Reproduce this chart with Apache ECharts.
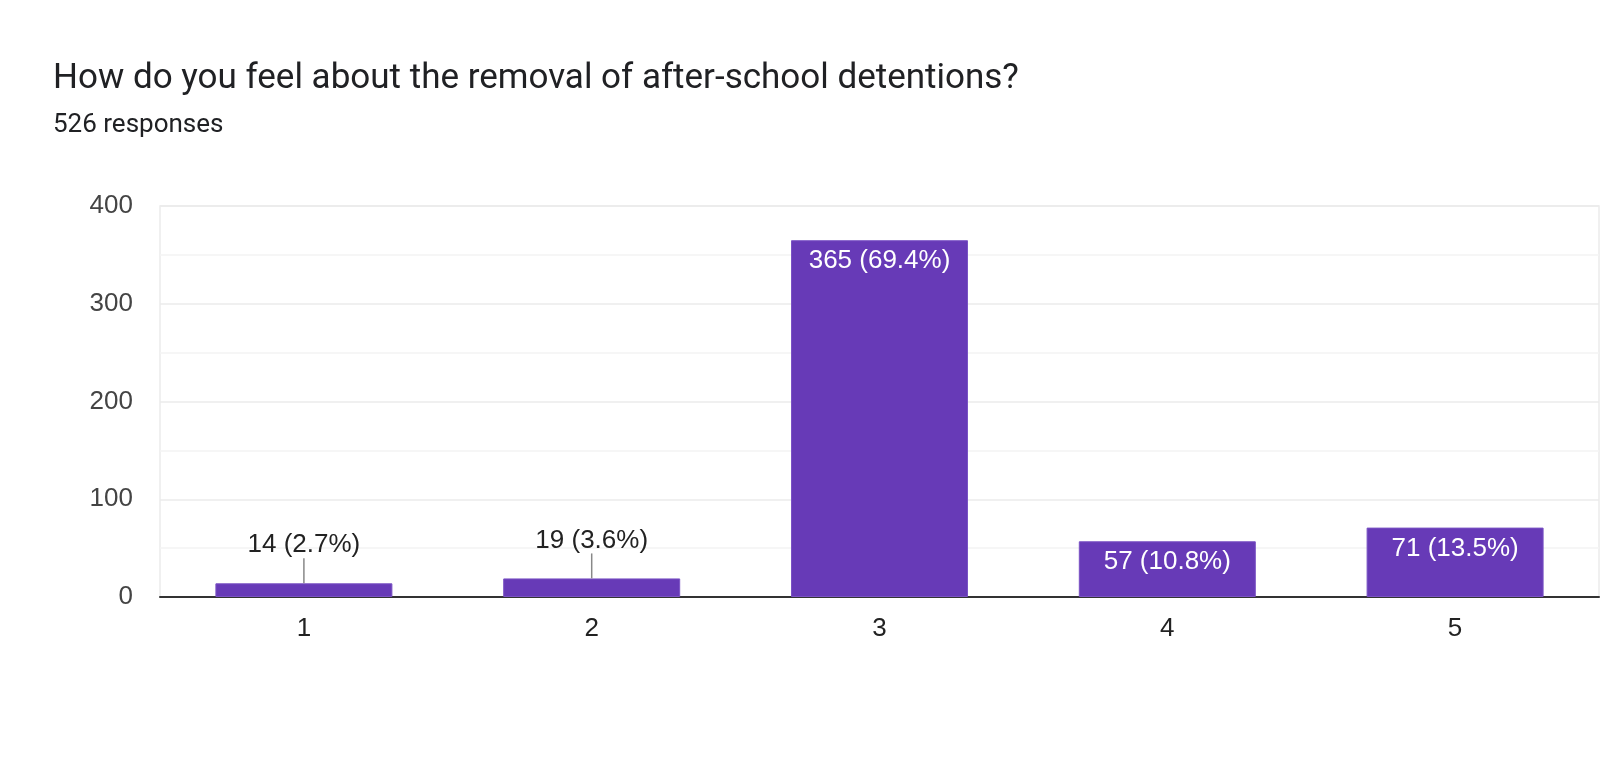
<!DOCTYPE html>
<html>
<head>
<meta charset="utf-8">
<script src="https://cdn.jsdelivr.net/npm/echarts@6/dist/echarts.min.js"></script>
<style>
html,body{margin:0;padding:0;background:#fff;}
#chart{width:1600px;height:761px;}
</style>
</head>
<body>
<div id="chart"></div>
<script>
const titleText = 'How do you feel about the removal of after-school detentions?';
const subtitleText = '526 responses';
const categories = ['1', '2', '3', '4', '5'];
const counts = [14, 19, 365, 57, 71];
const percents = [2.7, 3.6, 69.4, 10.8, 13.5];
const yTicks = [0, 100, 200, 300, 400];

const OUTSIDE_LIMIT = 30;
const LEADER = 25;

const chart = echarts.init(document.getElementById('chart'), null, {renderer: 'canvas'});

const barData = counts.map((v, i) => {
  const outside = v < OUTSIDE_LIMIT;
  return {
    value: v,
    label: outside
      ? {position: 'top', distance: LEADER, color: '#222222'}
      : {position: 'insideTop', distance: 8, color: '#ffffff'}
  };
});

chart.setOption({
  animation: false,
  backgroundColor: '#ffffff',
  title: {
    text: titleText,
    subtext: subtitleText,
    left: 48,
    top: 57,
    itemGap: 15,
    textStyle: {fontFamily: 'Roboto', fontSize: 35, fontWeight: 'normal', color: '#202124'},
    subtextStyle: {fontFamily: 'Roboto', fontSize: 26, color: '#202124'}
  },
  grid: {
    left: 160, right: 1, top: 206, bottom: 164,
    show: true, borderColor: '#ececec', borderWidth: 1.5
  },
  xAxis: {
    type: 'category',
    data: categories,
    axisLine: {show: true, lineStyle: {color: '#333333', width: 2}},
    axisTick: {show: false},
    axisLabel: {fontFamily: 'Liberation Sans, Arial', fontSize: 26, color: '#222222', margin: 19},
    splitLine: {show: false}
  },
  yAxis: {
    type: 'value',
    min: yTicks[0],
    max: yTicks[yTicks.length - 1],
    interval: yTicks[1] - yTicks[0],
    axisLine: {show: false},
    axisTick: {show: false},
    axisLabel: {fontFamily: 'Liberation Sans, Arial', fontSize: 26, color: '#444444', margin: 27},
    splitLine: {show: true, lineStyle: {color: '#ebebeb', width: 1.5}},
    minorTick: {show: false, splitNumber: 2},
    minorSplitLine: {show: true, lineStyle: {color: '#f4f4f4', width: 1.5}}
  },
  series: [
    {
      type: 'bar',
      data: barData,
      barWidth: '61.5%',
      itemStyle: {color: '#673ab7', borderColor: '#7a52c4', borderWidth: 1},
      label: {
        show: true,
        fontFamily: 'Liberation Sans, Arial',
        fontSize: 26,
        formatter: p => `${counts[p.dataIndex]} (${percents[p.dataIndex]}%)`
      },
      z: 2
    },
    {
      type: 'custom',
      data: counts.map((v, i) => [i, v]),
      renderItem: (params, api) => {
        const v = api.value(1);
        if (v >= OUTSIDE_LIMIT) return null;
        const pt = api.coord([api.value(0), v]);
        return {
          type: 'line',
          shape: {x1: pt[0], y1: pt[1], x2: pt[0], y2: pt[1] - LEADER},
          style: {stroke: '#888888', lineWidth: 1.5}
        };
      },
      silent: true,
      z: 3
    }
  ]
});
</script>
</body>
</html>
